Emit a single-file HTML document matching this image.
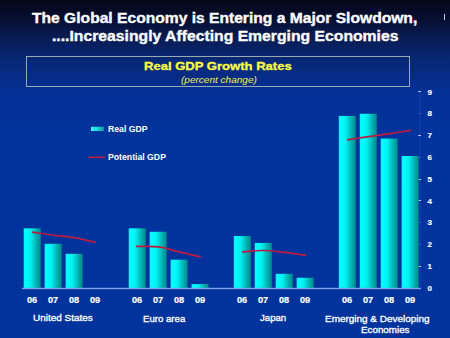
<!DOCTYPE html>
<html><head><meta charset="utf-8">
<style>
html,body{margin:0;padding:0;}
body{width:450px;height:338px;overflow:hidden;position:relative;
 background:linear-gradient(to bottom,#040816 0px,#060e30 18px,#081c54 38px,#082876 60px,#043096 92px,#00339b 130px,#00349c 338px);
 font-family:"Liberation Sans",sans-serif;}
.t{position:absolute;white-space:nowrap;line-height:1;transform-origin:0 0;}
.title{color:#fff;font-weight:bold;font-size:14.5px;-webkit-text-stroke:0.35px #fff;}
.box{position:absolute;left:26px;top:56px;width:382px;height:29px;border:1px solid #98acb0;}
.yl{color:#fff;font-weight:bold;font-size:8px;-webkit-text-stroke:0.15px #fff;}
.xl{color:#fff;font-weight:bold;font-size:8.5px;-webkit-text-stroke:0.2px #fff;transform:scaleX(1.08);}
.gl{color:#fff;font-size:9px;-webkit-text-stroke:0.3px #fff;}
</style></head><body>
<div class="t title" id="t1" style="left:32.2px;top:10.8px;transform:scaleX(1.077)">The Global Economy is Entering a Major Slowdown,</div>
<div class="t title" id="t2" style="left:52.0px;top:28.6px;transform:scaleX(1.085)">....Increasingly Affecting Emerging Economies</div>
<div style="position:absolute;left:444px;top:14px;width:1px;height:6px;background:#c8d0e8"></div>
<div class="box"></div>
<div class="t" id="h1" style="left:143.6px;top:60.6px;color:#ffff40;font-weight:bold;font-size:11.3px;-webkit-text-stroke:0.3px #ffff40;transform:scaleX(1.155)">Real GDP Growth Rates</div>
<div class="t" id="h2" style="left:181px;top:76px;color:#f0f048;font-style:italic;font-size:8.5px;transform:scaleX(1.18)">(percent change)</div>
<svg width="450" height="338" style="position:absolute;left:0;top:0">
<defs>
<linearGradient id="bg" x1="0" x2="1" y1="0" y2="0">
<stop offset="0" stop-color="#10f0f8"/>
<stop offset="0.12" stop-color="#00ffff"/>
<stop offset="0.4" stop-color="#00f0f0"/>
<stop offset="0.75" stop-color="#00b0b0"/>
<stop offset="1" stop-color="#008a8c"/>
</linearGradient>
<linearGradient id="lg" x1="0" x2="1" y1="0" y2="0">
<stop offset="0" stop-color="#40f0ff"/>
<stop offset="0.4" stop-color="#20e0e8"/>
<stop offset="1" stop-color="#10a098"/>
</linearGradient>
</defs>
<rect x="419.6" y="91" width="1" height="197" fill="#1a40b8"/>
<rect x="418" y="266" width="3" height="1" fill="#b0c0f0"/>
<rect x="418" y="244" width="3" height="1" fill="#3858c8"/>
<rect x="418" y="222" width="3" height="1" fill="#3858c8"/>
<rect x="418" y="200" width="3" height="1" fill="#b0c0f0"/>
<rect x="418" y="179" width="3" height="1" fill="#b0c0f0"/>
<rect x="418" y="157" width="3" height="1" fill="#3858c8"/>
<rect x="418" y="135" width="3" height="1" fill="#b0c0f0"/>
<rect x="418" y="113" width="3" height="1" fill="#3858c8"/>
<rect x="418" y="91" width="3" height="1" fill="#b0c0f0"/>
<g fill="url(#bg)">
<rect x="23.70" y="228.32" width="17.0" height="59.68"/>
<rect x="44.65" y="243.79" width="17.0" height="44.21"/>
<rect x="65.60" y="253.81" width="17.0" height="34.19"/>
<rect x="128.70" y="228.32" width="17.0" height="59.68"/>
<rect x="149.65" y="231.81" width="17.0" height="56.19"/>
<rect x="170.60" y="259.69" width="17.0" height="28.31"/>
<rect x="191.55" y="284.08" width="17.0" height="3.92"/>
<rect x="233.80" y="235.95" width="17.0" height="52.05"/>
<rect x="254.75" y="242.92" width="17.0" height="45.08"/>
<rect x="275.70" y="273.84" width="17.0" height="14.16"/>
<rect x="296.65" y="277.76" width="17.0" height="10.24"/>
<rect x="338.80" y="115.94" width="17.0" height="172.06"/>
<rect x="359.75" y="113.76" width="17.0" height="174.24"/>
<rect x="380.70" y="138.59" width="17.0" height="149.41"/>
<rect x="401.65" y="156.01" width="17.0" height="131.99"/>
</g>
<rect x="22" y="287.8" width="399" height="1.4" fill="#80a0ec"/>
<g stroke="#bc1c40" stroke-width="1.7" fill="none" stroke-linejoin="round">
<path d="M32.00,232.20 C35.50,232.67 46.00,234.08 53.00,235.00 C60.00,235.92 66.83,236.47 74.00,237.70 C81.17,238.93 92.33,241.62 96.00,242.40"/>
<path d="M136.00,246.40 C139.83,246.48 151.67,245.93 159.00,246.90 C166.33,247.87 173.00,250.53 180.00,252.20 C187.00,253.87 197.50,256.12 201.00,256.90"/>
<path d="M242.00,251.90 C245.50,251.67 256.00,250.43 263.00,250.50 C270.00,250.57 276.83,251.52 284.00,252.30 C291.17,253.08 302.33,254.72 306.00,255.20"/>
<path d="M347.00,139.90 C350.33,139.40 360.17,137.90 367.00,136.90 C373.83,135.90 380.67,135.00 388.00,133.90 C395.33,132.80 407.17,130.90 411.00,130.30"/>
</g>
<rect x="91" y="126.8" width="12.8" height="4.2" fill="url(#lg)"/>
<line x1="88.5" y1="157.3" x2="105" y2="157.3" stroke="#bc1c40" stroke-width="1.6"/>
</svg>
<div class="t" style="left:108px;top:124.5px;color:#fff;font-weight:bold;font-size:8.7px;">Real GDP</div>
<div class="t" style="left:108px;top:153px;color:#fff;font-weight:bold;font-size:8.7px;">Potential GDP</div>
<div class="t yl" style="left:427.5px;top:284.70px">0</div>
<div class="t yl" style="left:427.5px;top:262.92px">1</div>
<div class="t yl" style="left:427.5px;top:241.14px">2</div>
<div class="t yl" style="left:427.5px;top:219.36px">3</div>
<div class="t yl" style="left:427.5px;top:197.58px">4</div>
<div class="t yl" style="left:427.5px;top:175.80px">5</div>
<div class="t yl" style="left:427.5px;top:154.02px">6</div>
<div class="t yl" style="left:427.5px;top:132.24px">7</div>
<div class="t yl" style="left:427.5px;top:110.46px">8</div>
<div class="t yl" style="left:427.5px;top:88.68px">9</div>
<div class="t xl" style="left:27.00px;top:296px">06</div>
<div class="t xl" style="left:47.95px;top:296px">07</div>
<div class="t xl" style="left:68.90px;top:296px">08</div>
<div class="t xl" style="left:89.85px;top:296px">09</div>
<div class="t xl" style="left:132.00px;top:296px">06</div>
<div class="t xl" style="left:152.95px;top:296px">07</div>
<div class="t xl" style="left:173.90px;top:296px">08</div>
<div class="t xl" style="left:194.85px;top:296px">09</div>
<div class="t xl" style="left:237.10px;top:296px">06</div>
<div class="t xl" style="left:258.05px;top:296px">07</div>
<div class="t xl" style="left:279.00px;top:296px">08</div>
<div class="t xl" style="left:299.95px;top:296px">09</div>
<div class="t xl" style="left:342.10px;top:296px">06</div>
<div class="t xl" style="left:363.05px;top:296px">07</div>
<div class="t xl" style="left:384.00px;top:296px">08</div>
<div class="t xl" style="left:404.95px;top:296px">09</div>
<div class="t gl" id="g1" style="left:33px;top:313.8px;transform:scaleX(1.105)">United States</div>
<div class="t gl" id="g2" style="left:143.3px;top:314.8px;transform:scaleX(1.07)">Euro area</div>
<div class="t gl" id="g3" style="left:259.5px;top:314.3px;transform:scaleX(1.066)">Japan</div>
<div class="t gl" id="g4" style="left:324.5px;top:314.8px;transform:scaleX(1.105)">Emerging &amp; Developing</div>
<div class="t gl" id="g5" style="left:360.5px;top:326px;transform:scaleX(1.09)">Economies</div>
</body></html>
